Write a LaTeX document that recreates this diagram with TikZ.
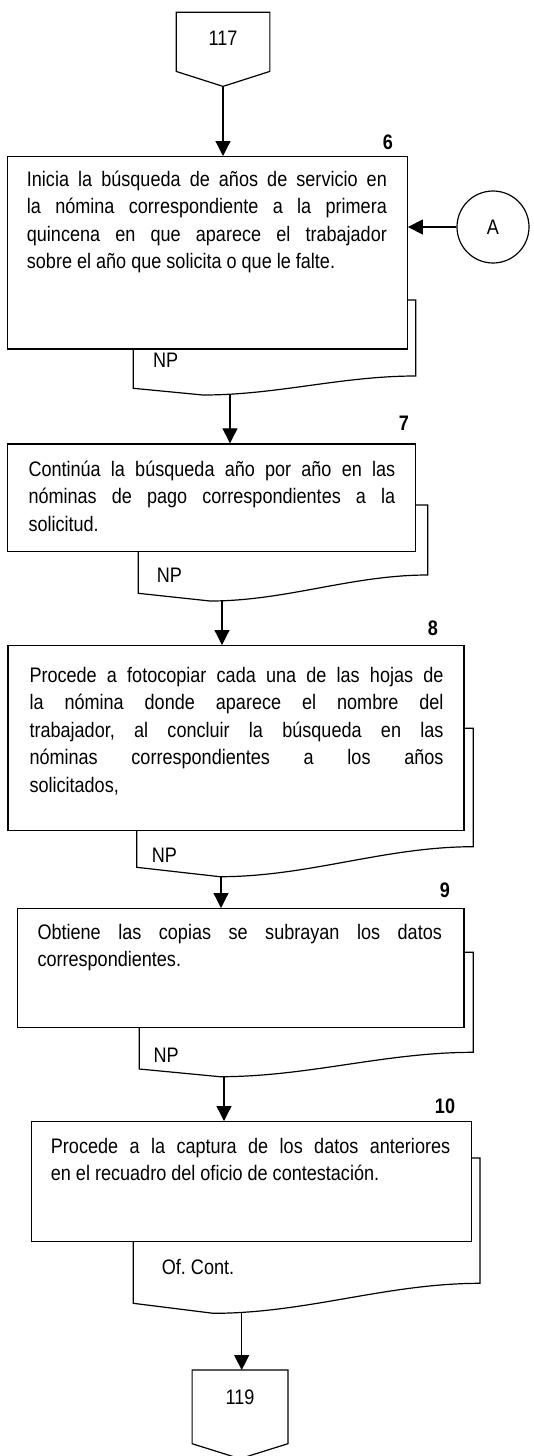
\documentclass[tikz,border=0pt]{standalone}
\usepackage{fontspec}
\setmainfont{Liberation Sans}[FakeStretch=0.86]
\frenchspacing
\usetikzlibrary{arrows.meta,calc}
\tikzset{
  linea/.style={line width=1.2pt},
  caja/.style={linea,draw,fill=white,anchor=north west,inner sep=0pt},
  texto/.style={anchor=base west,inner sep=0pt,align=justify,font=\fontsize{21}{27.5}\selectfont},
  num/.style={inner sep=0pt,font=\fontsize{21}{22}\selectfont\bfseries},
  etiq/.style={anchor=west,inner sep=0pt,font=\fontsize{21}{22}\selectfont},
  conector/.style={anchor=north,inner sep=0pt},
  flecha/.style={linea,-{Triangle[length=15pt,width=15pt]}}
}
% documento detras de cada caja
\newcommand{\docu}[9]{%
  \draw[linea,fill=white] (#2,#3) -- (#2,#6) -- (#7,#8)
    .. controls ({#7+0.35*(#4-#7)},#8) and ({#4-0.35*(#4-#7)},#5) .. (#4,#5) -- (#4,#3) -- cycle;
  \coordinate (#1) at (#9,#8);}
\begin{document}
\begin{tikzpicture}[x=1pt,y=-1pt]
  \useasboundingbox (0,0) rectangle (534,1456);
  % conector 117
  \node[conector,minimum width=93.3pt,minimum height=58.7pt] (c117) at (223,12.3) {};
  \coordinate (c117p) at ($(c117.south)+(0,15)$);
  \draw[linea] (c117.north west) -- (c117.north east) -- (c117.south east) -- (c117p) -- (c117.south west) -- cycle;
  \node[font=\fontsize{21}{22}\selectfont] (n117) at ($(c117)+(0,-3.7)$) {117};

  % paso 6
  \docu{d6}{133.3}{300}{415.7}{376}{388.3}{203}{395}{230}
  \node[caja,minimum width=400pt,minimum height=192.3pt] (p6) at (6.7,156) {};
  \node[texto,text width=360pt] (t6) at (26.7,186) {Inicia la búsqueda de años de servicio en\linebreak la nómina correspondiente a la primera\linebreak quincena en que aparece el trabajador\linebreak sobre el año que solicita o que le falte.};
  \node[num] (n6) at (388,142) {6};
  \node[etiq] (e6) at (153,360) {NP};
  \node[circle,draw,linea,minimum size=72pt,inner sep=0pt,font=\fontsize{21}{22}\selectfont] (A) at (493,227) {A};

  % paso 7
  \docu{d7}{138.3}{505}{427.7}{575}{593.3}{210}{601}{222}
  \node[caja,minimum width=408.3pt,minimum height=107.7pt] (p7) at (6.7,443.3) {};
  \node[texto,text width=366.7pt] (t7) at (28.3,476) {Continúa la búsqueda año por año en las\linebreak nóminas de pago correspondientes a la\linebreak solicitud.};
  \node[num] (n7) at (404,423) {7};
  \node[etiq] (e7) at (156.7,575) {NP};

  % paso 8
  \docu{d8}{136.7}{728.3}{473.3}{846.7}{867.3}{220}{876.7}{221}
  \node[caja,minimum width=456pt,minimum height=185pt] (p8) at (7.3,645) {};
  \node[texto,text width=414pt] (t8) at (29.3,682) {Procede a fotocopiar cada una de las hojas de\linebreak la nómina donde aparece el nombre del\linebreak trabajador, al concluir la búsqueda en las\linebreak nóminas correspondientes a los años\linebreak solicitados,};
  \node[num] (n8) at (433,628) {8};
  \node[etiq] (e8) at (151.7,855) {NP};

  % paso 9
  \docu{d9}{139.3}{952.3}{473.3}{1052.3}{1069}{220}{1076.7}{224}
  \node[caja,minimum width=446.6pt,minimum height=118.7pt] (p9) at (16.7,908) {};
  \node[texto,text width=404.4pt] (t9) at (37.3,939) {Obtiene las copias se subrayan los datos\linebreak correspondientes.};
  \node[num] (n9) at (445,890) {9};
  \node[etiq] (e9) at (153.3,1055) {NP};

  % paso 10
  \docu{d10}{133.3}{1158}{480}{1283.3}{1303.3}{213.3}{1313.3}{241.7}
  \node[caja,minimum width=440pt,minimum height=120pt] (p10) at (30.7,1121) {};
  \node[texto,text width=399.3pt] (t10) at (50.7,1153) {Procede a la captura de los datos anteriores\linebreak en el recuadro del oficio de contestación.};
  \node[num] (n10) at (445,1106.7) {10};
  \node[etiq] (e10) at (161.7,1266.7) {Of. Cont.};

  % conector 119
  \node[conector,minimum width=95.4pt,minimum height=73.3pt] (c119) at (240,1370) {};
  \coordinate (c119p) at ($(c119.south)+(0,15)$);
  \draw[linea] (c119.north west) -- (c119.north east) -- (c119.south east) -- (c119p) -- (c119.south west) -- cycle;
  \node[font=\fontsize{21}{22}\selectfont] (n119) at ($(c119)+(0,-10)$) {119};

  % flechas
  \draw[flecha] (c117p) -- (c117p |- p6.north);
  \draw[flecha] (A) -- (A -| p6.east);
  \draw[flecha] (d6) -- (d6 |- p7.north);
  \draw[flecha] (d7) -- (d7 |- p8.north);
  \draw[flecha] (d8) -- (d8 |- p9.north);
  \draw[flecha] (d9) -- (d9 |- p10.north);
  \draw[flecha] (d10) -- (d10 |- c119.north);
\end{tikzpicture}
\end{document}
